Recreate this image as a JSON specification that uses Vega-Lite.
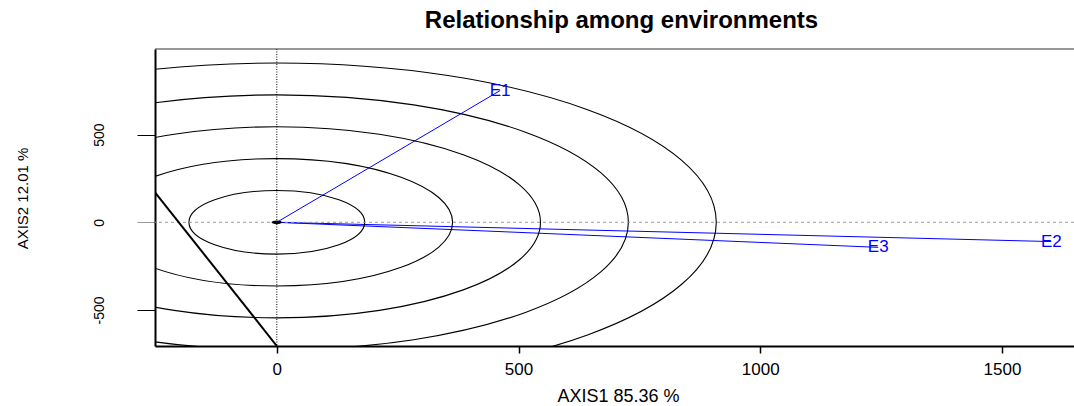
{
  "$schema": "https://vega.github.io/schema/vega-lite/v6.json",
  "width": 919,
  "height": 297,
  "autosize": "none",
  "padding": {"left": 155, "top": 49, "right": 0, "bottom": 60},
  "background": "white",
  "config": {"view": {"stroke": null}, "font": "Liberation Sans"},
  "title": {
    "text": "Relationship among environments",
    "anchor": "middle",
    "frame": "group",
    "dx": 7,
    "dy": 25,
    "offset": 22,
    "baseline": "alphabetic",
    "font": "Liberation Sans",
    "fontSize": 24,
    "fontWeight": "bold",
    "color": "black"
  },
  "datasets": {
    "env": [
      {"env": "E1", "x": 462, "y": 752},
      {"env": "E2", "x": 1602, "y": -110},
      {"env": "E3", "x": 1244, "y": -143}
    ],
    "circles": [
      {"radius": 181.8},
      {"radius": 363.6},
      {"radius": 545.4},
      {"radius": 727.2},
      {"radius": 909}
    ],
    "line": [
      {"x": -252, "y": 171},
      {"x": 0, "y": -706}
    ],
    "origin": [{"x": 0, "y": 0}]
  },
  "layer": [
    {
      "data": {"name": "env"},
      "mark": {"type": "rule", "color": "#0000ff", "strokeWidth": 1},
      "encoding": {
        "x": {
          "field": "x",
          "type": "quantitative",
          "title": "AXIS1 85.36 %",
          "scale": {"domain": [-252, 1649], "nice": false, "zero": false},
          "axis": {
            "values": [0, 500, 1000, 1500],
            "labelExpr": "'' + datum.value",
            "grid": false,
            "domainColor": "black",
            "domainWidth": 2,
            "tickColor": "black",
            "tickWidth": 1.5,
            "tickSize": 7,
            "labelFont": "Liberation Sans",
            "labelFontSize": 17,
            "labelColor": "black",
            "labelPadding": 8,
            "labelBaseline": "top",
            "labelFlush": false,
            "labelOverlap": false,
            "titleFont": "Liberation Sans",
            "titleFontSize": 18,
            "titleFontWeight": "normal",
            "titleColor": "black",
            "titleX": 463,
            "titleY": 55,
            "titleBaseline": "alphabetic",
            "titleAlign": "center"
          }
        },
        "y": {
          "field": "y",
          "type": "quantitative",
          "title": "AXIS2 12.01 %",
          "scale": {"domain": [-706, 989], "nice": false, "zero": false},
          "axis": {
            "values": [-500, 0, 500],
            "labelExpr": "'' + datum.value",
            "grid": false,
            "domainColor": "black",
            "domainWidth": 2,
            "tickColor": {"condition": {"test": "datum.value === 0", "value": "#999999"}, "value": "black"},
            "tickWidth": 1,
            "tickSize": 18,
            "labelFont": "Liberation Sans",
            "labelFontSize": 14,
            "labelColor": "black",
            "labelAngle": -90,
            "labelAlign": "center",
            "labelBaseline": "middle",
            "labelPadding": 38,
            "labelOverlap": false,
            "titleFont": "Liberation Sans",
            "titleFontSize": 15,
            "titleFontWeight": "normal",
            "titleColor": "black",
            "titleAngle": -90,
            "titleX": -132.5,
            "titleY": 149,
            "titleAlign": "center",
            "titleBaseline": "middle"
          }
        },
        "x2": {"datum": 0},
        "y2": {"datum": 0}
      }
    },
    {
      "data": {"name": "circles"},
      "mark": {
        "type": "point",
        "shape": "M-1,0C-1,-0.200178,-0.552285,-0.362453,0,-0.362453C0.552285,-0.362453,1,-0.200178,1,0C1,0.200178,0.552285,0.362453,0,0.362453C-0.552285,0.362453,-1,0.200178,-1,0Z",
        "filled": false,
        "stroke": "black",
        "strokeWidth": 1.1,
        "opacity": 1,
        "clip": true
      },
      "encoding": {
        "x": {"datum": 0, "type": "quantitative", "title": "AXIS1 85.36 %"},
        "y": {"datum": 0, "type": "quantitative", "title": "AXIS2 12.01 %"},
        "size": {
          "field": "radius",
          "type": "quantitative",
          "scale": {"type": "pow", "exponent": 2, "domain": [0, 1000], "range": [0, 934818]},
          "legend": null
        }
      }
    },
    {
      "data": {"name": "origin"},
      "mark": {"type": "rule", "color": "#999999", "strokeWidth": 1, "strokeDash": [3, 3]},
      "encoding": {"y": {"field": "y", "type": "quantitative", "title": "AXIS2 12.01 %"}}
    },
    {
      "data": {"name": "origin"},
      "mark": {"type": "rule", "color": "black", "strokeWidth": 1, "strokeDash": [1, 1.5]},
      "encoding": {"x": {"field": "x", "type": "quantitative", "title": "AXIS1 85.36 %"}}
    },
    {
      "data": {"name": "line"},
      "mark": {"type": "line", "color": "black", "strokeWidth": 2, "clip": true},
      "encoding": {
        "x": {"field": "x", "type": "quantitative", "title": "AXIS1 85.36 %"},
        "y": {"field": "y", "type": "quantitative", "title": "AXIS2 12.01 %"}
      }
    },
    {
      "data": {"name": "env"},
      "mark": {"type": "text", "color": "#0000ff", "font": "Liberation Sans", "fontSize": 17, "align": "center", "baseline": "middle"},
      "encoding": {
        "x": {"field": "x", "type": "quantitative", "title": "AXIS1 85.36 %"},
        "y": {"field": "y", "type": "quantitative", "title": "AXIS2 12.01 %"},
        "text": {"field": "env"}
      }
    },
    {
      "data": {"name": "origin"},
      "mark": {
        "type": "point",
        "shape": "M-1,0C-1,-0.200178,-0.552285,-0.362453,0,-0.362453C0.552285,-0.362453,1,-0.200178,1,0C1,0.200178,0.552285,0.362453,0,0.362453C-0.552285,0.362453,-1,0.200178,-1,0Z",
        "filled": true,
        "color": "black",
        "opacity": 1,
        "size": 110
      },
      "encoding": {
        "x": {"field": "x", "type": "quantitative", "title": "AXIS1 85.36 %"},
        "y": {"field": "y", "type": "quantitative", "title": "AXIS2 12.01 %"}
      }
    },
    {
      "data": {"values": [{"top": 989}]},
      "mark": {"type": "rule", "color": "#333333", "strokeWidth": 1},
      "encoding": {"y": {"field": "top", "type": "quantitative", "title": "AXIS2 12.01 %"}}
    }
  ]
}
